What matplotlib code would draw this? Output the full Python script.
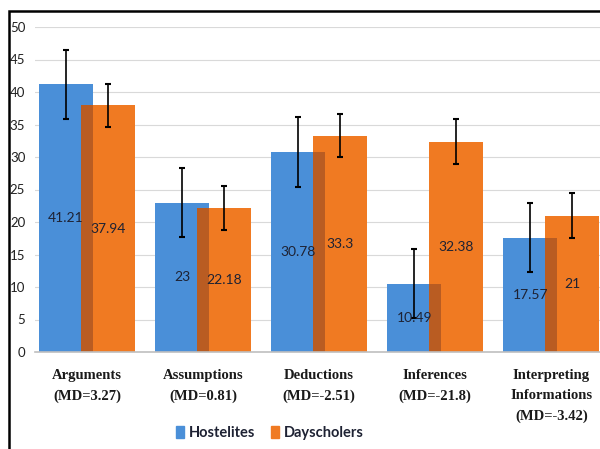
import numpy as np
import matplotlib.pyplot as plt
from matplotlib.patches import Rectangle, Patch


CATEGORIES = ['Arguments\n(MD=3.27)', 'Assumptions\n(MD=0.81)',
              'Deductions\n(MD=-2.51)', 'Inferences\n(MD=-21.8)',
              'Interpreting\nInformations\n(MD=-3.42)']
HOSTELITES = [41.21, 23, 30.78, 10.49, 17.57]
DAYSCHOLERS = [37.94, 22.18, 33.3, 32.38, 21]
HOSTELITES_ERR = [5.3, 5.3, 5.4, 5.3, 5.3]
DAYSCHOLERS_ERR = [3.3, 3.4, 3.3, 3.4, 3.4]
Y_TICKS = list(range(0, 51, 5))
LEGEND_LABELS = ['Hostelites', 'Dayscholers']

BLUE = '#4A8FD8'
ORANGE = '#F07A22'
OVERLAP = '#B95C22'
TEXT = '#1E2233'
WIDTH = 0.466
OFFSET = 0.181

W_PX, H_PX = 600, 449

fig = plt.figure(figsize=(W_PX / 100, H_PX / 100), dpi=100)
ax = fig.add_axes([35 / W_PX, 1 - 352 / H_PX, 1 - 35 / W_PX, (352 - 27) / H_PX])

x = np.arange(len(CATEGORIES))
h = np.array(HOSTELITES)
d = np.array(DAYSCHOLERS)

ax.bar(x - OFFSET, h, WIDTH, color=BLUE, zorder=2)
ax.bar(x + OFFSET, d, WIDTH, color=ORANGE, zorder=3)
# darker strip where the orange bar sits over the blue one
ax.bar(x, np.minimum(h, d), WIDTH - 2 * OFFSET, color=OVERLAP, zorder=4)

ax.errorbar(x - OFFSET, h, yerr=HOSTELITES_ERR, fmt='none', ecolor='black',
            elinewidth=1.2, capsize=2.5, capthick=1.5, zorder=5)
ax.errorbar(x + OFFSET, d, yerr=DAYSCHOLERS_ERR, fmt='none', ecolor='black',
            elinewidth=1.2, capsize=2.5, capthick=1.5, zorder=5)

for xi, val in zip(x - OFFSET, h):
    ax.text(xi, val / 2, f'{val:g}', ha='center', va='center', fontsize=10,
            family=['Lato', 'DejaVu Sans'], color=TEXT, zorder=6)
for xi, val in zip(x + OFFSET, d):
    ax.text(xi, val / 2, f'{val:g}', ha='center', va='center', fontsize=10,
            family=['Lato', 'DejaVu Sans'], color=TEXT, zorder=6)

ax.set_ylim(0, 50)
ax.set_xlim(-0.448, 4.42)
ax.set_yticks(Y_TICKS)
ax.set_xticks(x)
ax.set_xticklabels(CATEGORIES, family='Liberation Serif', fontweight='bold',
                   fontsize=10.5, linespacing=1.75, color='#1a1a1a')
for lab in ax.get_yticklabels():
    lab.set_family(['Lato', 'DejaVu Sans'])
    lab.set_fontsize(9.5)
    lab.set_color('#222222')
ax.tick_params(axis='y', length=0, pad=7)
ax.tick_params(axis='x', length=0, pad=12)

ax.grid(axis='y', color='#D9D9D9', linewidth=0.8, zorder=0)
ax.set_axisbelow(True)
for side in ['top', 'right', 'left']:
    ax.spines[side].set_visible(False)
ax.spines['bottom'].set_color('#BFBFBF')
ax.spines['bottom'].set_linewidth(1.2)
ax.spines['bottom'].set_zorder(7)

handles = [Patch(color=BLUE), Patch(color=ORANGE)]
fig.legend(handles, LEGEND_LABELS, loc='center', bbox_to_anchor=(0.45, 0.036),
           ncol=2, frameon=False, handlelength=0.5, handleheight=0.9,
           handletextpad=0.35, columnspacing=1.1,
           prop={'family': 'Lato', 'weight': 'bold', 'size': 10.5},
           labelcolor=TEXT)

# outer frame of the original figure (right and bottom edges are cut off)
fig.patches.append(Rectangle((9 / W_PX, -0.1), 1.2, 1.1 - 11 / H_PX,
                             transform=fig.transFigure, fill=False,
                             edgecolor='black', linewidth=1.8))

fig.savefig('out.png', dpi=100)
